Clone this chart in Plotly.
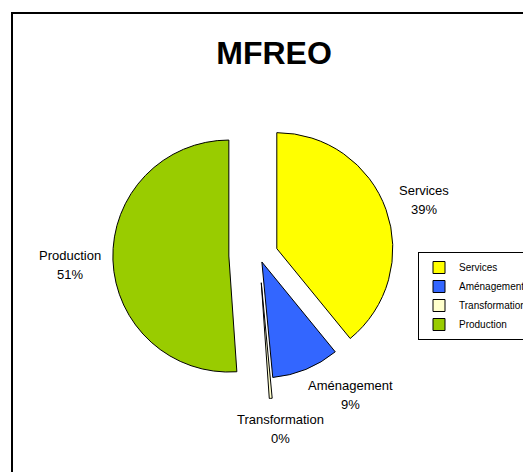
import plotly.graph_objects as go

# ---- data ----
categories = ["Services", "Aménagement", "Transformation", "Production"]
values = [39.1, 9.4, 0.4, 51.1]
colors = ["#FFFF00", "#3366FF", "#FFFFCC", "#99CC00"]
pulls = [0.163, 0.065, 0.24, 0.26]
title_text = "MFREO"

# label positions (screen px: centre x, centre y of the category line)
label_pos = [(424, 190), (350, 385), (280, 419), (70, 255)]
LINE_GAP = 19.5

W, H = 531, 472
OFF = 8  # page body margin: figure is drawn 8px right/down on screen
FONT = "Liberation Sans, Arial, sans-serif"


def px(x):
    return (x - OFF) / W


def py(y):
    return 1 - (y - OFF) / H


# pie geometry: centre and radius in screen px
cx, cy, r = 259, 255, 116
half = r * (1 + max(pulls))

fig = go.Figure()
fig.add_trace(go.Pie(
    labels=categories,
    values=values,
    marker=dict(colors=colors, line=dict(color="#000000", width=1)),
    pull=pulls,
    sort=False,
    direction="clockwise",
    rotation=0,
    textinfo="none",
    hoverinfo="label+percent",
    domain=dict(x=[px(cx - half), px(cx + half)],
                y=[py(cy + half), py(cy - half)]),
))

total = sum(values)
annotations = []
for cat, v, (lx, ly) in zip(categories, values, label_pos):
    pct = round(v / total * 100)
    for txt, yy in ((cat, ly), (f"{pct}%", ly + LINE_GAP)):
        annotations.append(dict(
            x=px(lx), y=py(yy), xref="paper", yref="paper",
            text=txt, showarrow=False,
            xanchor="center", yanchor="middle", align="center",
            font=dict(family=FONT, size=13, color="#000000"),
        ))

fig.update_layout(
    width=W, height=H,
    margin=dict(l=0, r=0, t=0, b=0, autoexpand=False),
    paper_bgcolor="#FFFFFF",
    plot_bgcolor="#FFFFFF",
    title=dict(text=f"<b>{title_text}</b>", x=px(274), xanchor="center",
               y=py(53), yanchor="middle", xref="paper", yref="paper",
               font=dict(family=FONT, size=32, color="#000000")),
    showlegend=True,
    legend=dict(x=px(418), y=py(252), xanchor="left", yanchor="top",
                bordercolor="#000000", borderwidth=1, bgcolor="#FFFFFF",
                font=dict(family=FONT, size=10, color="#000000"),
                itemwidth=30, traceorder="normal"),
    annotations=annotations,
    shapes=[dict(type="rect", xref="paper", yref="paper",
                 x0=px(12), x1=px(W + 30), y0=py(H + 30), y1=py(13),
                 line=dict(color="#000000", width=2), fillcolor="rgba(0,0,0,0)",
                 layer="below")],
)

fig.write_html("out.html")
